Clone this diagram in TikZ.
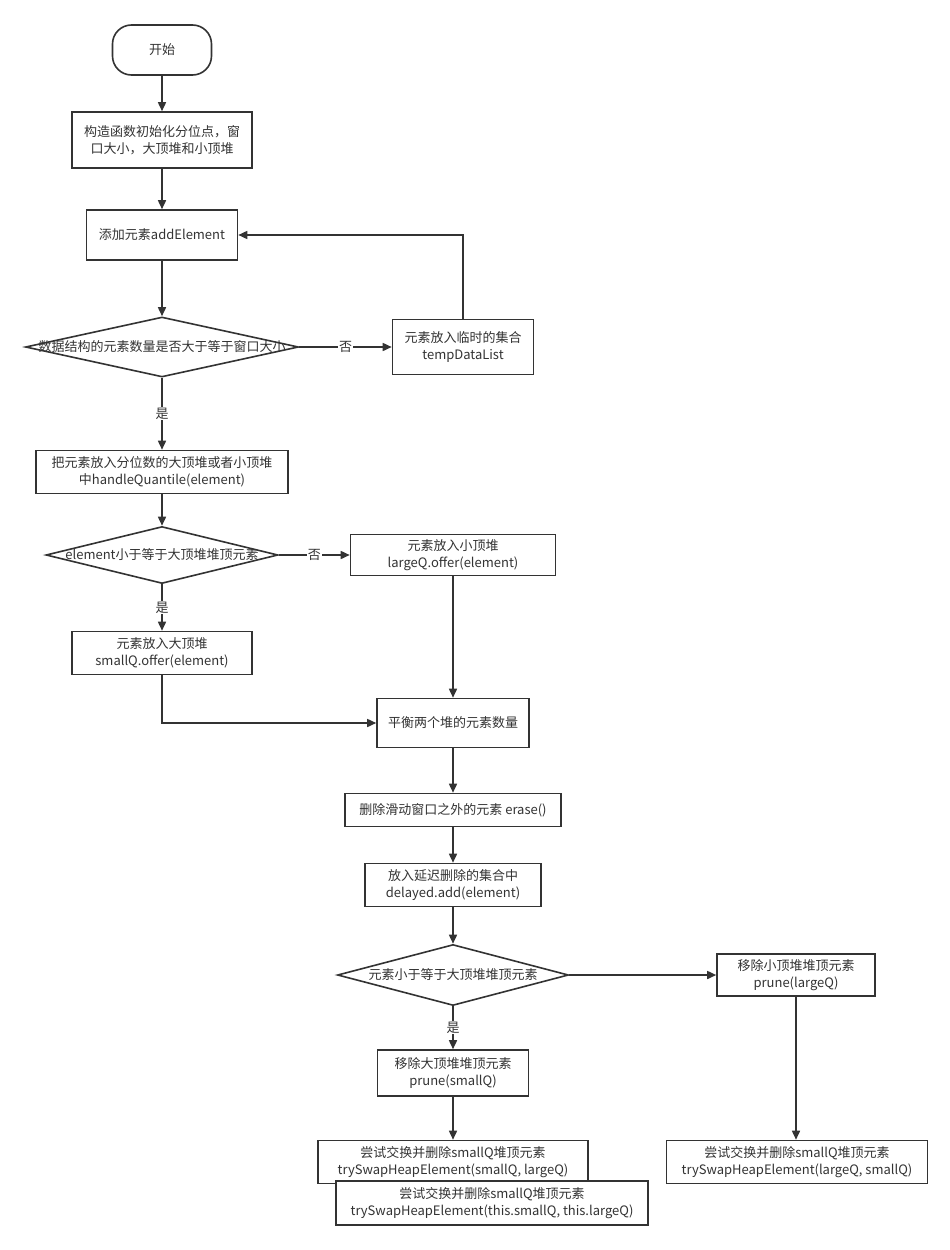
\documentclass[tikz,border=0pt]{standalone}
\usepackage{fontspec}
\setmainfont{Noto Sans CJK SC}
\usetikzlibrary{shapes.geometric,arrows.meta}
\definecolor{ink}{HTML}{333333}

\begin{document}
\begin{tikzpicture}[x=1pt, y=-1pt,
    font=\fontsize{13}{16.5}\selectfont,
    terminale/.style={draw=ink, line width=1.6pt, rounded corners=19pt, fill=white,
        minimum width=99pt, minimum height=50pt, text=ink},
    blocco/.style n args={2}{draw=ink, line width=1.6pt, fill=white, align=center,
        inner sep=0pt, minimum width=#1, minimum height=#2, text=ink},
    rombo/.style n args={3}{diamond, draw=ink, line width=1.6pt, fill=white,
        inner sep=0pt, minimum width=#1, minimum height=#2,
        label={[text=ink]center:{#3}}},
    freccia/.style={draw=ink, line width=1.6pt, -{Triangle[length=9pt,width=8pt]}},
    etichetta/.style={fill=white, inner sep=1pt, text=ink}]
    \useasboundingbox[fill=white] (0,0) rectangle (950,1250);

    % Inizio e inizializzazione
    \node[terminale] (inizio) at (162,50) {开始};
    \node[blocco={180pt}{56pt}] (init) at (162,140) {构造函数初始化分位点，窗\\口大小，大顶堆和小顶堆};
    \node[blocco={151pt}{50pt}] (add) at (162,235) {添加元素addElement};

    % Primo controllo sulla finestra
    \node[rombo={273pt}{60pt}{数据结构的元素数量是否大于等于窗口大小}] (d1) at (162,347) {};
    \node[blocco={141pt}{55pt}] (temp) at (463,347) {元素放入临时的集合\\tempDataList};
    \node[blocco={252pt}{43pt}] (handle) at (162,472) {把元素放入分位数的大顶堆或者小顶堆\\中handleQuantile(element)};

    % Scelta dell'heap
    \node[rombo={232pt}{57pt}{element小于等于大顶堆堆顶元素}] (d2) at (162,555) {};
    \node[blocco={205pt}{41pt}] (large) at (453,555) {元素放入小顶堆\\largeQ.offer(element)};
    \node[blocco={180pt}{43pt}] (small) at (162,653) {元素放入大顶堆\\smallQ.offer(element)};
    \node[blocco={152pt}{49pt}] (bilancia) at (453,723) {平衡两个堆的元素数量};
    \node[blocco={216pt}{33pt}] (erase) at (453,810) {删除滑动窗口之外的元素 erase()};
    \node[blocco={176pt}{43pt}] (delayed) at (453,885) {放入延迟删除的集合中\\delayed.add(element)};

    % Rimozione con prune
    \node[rombo={231pt}{61pt}{元素小于等于大顶堆堆顶元素}] (d3) at (453,975) {};
    \node[blocco={158pt}{42pt}] (pruneL) at (796,975) {移除小顶堆堆顶元素\\prune(largeQ)};
    \node[blocco={151pt}{46pt}] (pruneS) at (453,1073) {移除大顶堆堆顶元素\\prune(smallQ)};

    % Scambio finale
    \node[blocco={270pt}{43pt}] (swap1) at (453,1162) {尝试交换并删除smallQ堆顶元素\\trySwapHeapElement(smallQ, largeQ)};
    \node[blocco={312pt}{44pt}] (swap2) at (492,1203) {尝试交换并删除smallQ堆顶元素\\trySwapHeapElement(this.smallQ, this.largeQ)};
    \node[blocco={261pt}{43pt}] (swap3) at (797,1162) {尝试交换并删除smallQ堆顶元素\\trySwapHeapElement(largeQ, smallQ)};

    % Frecce
    \draw[freccia] (inizio) -- (init);
    \draw[freccia] (init) -- (add);
    \draw[freccia] (add) -- (d1);
    \draw[freccia] (d1) -- node[etichetta] {否} (temp);
    \draw[freccia] (temp.north) |- (add.east);
    \draw[freccia] (d1) -- node[etichetta] {是} (handle);
    \draw[freccia] (handle) -- (d2);
    \draw[freccia] (d2) -- node[etichetta] {否} (large);
    \draw[freccia] (d2) -- node[etichetta] {是} (small);
    \draw[freccia] (large) -- (bilancia);
    \draw[freccia] (small.south) |- (bilancia.west);
    \draw[freccia] (bilancia) -- (erase);
    \draw[freccia] (erase) -- (delayed);
    \draw[freccia] (delayed) -- (d3);
    \draw[freccia] (d3) -- (pruneL);
    \draw[freccia] (d3) -- node[etichetta] {是} (pruneS);
    \draw[freccia] (pruneS) -- (swap1);
    \draw[freccia] (pruneL.south) -- (pruneL.south |- swap3.north);
\end{tikzpicture}
\end{document}
